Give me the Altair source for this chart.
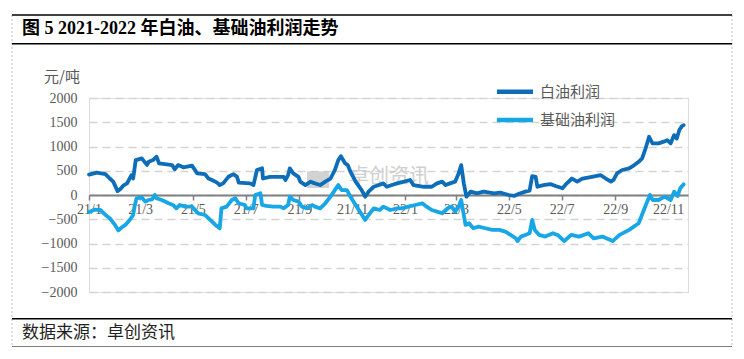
import altair as alt
import pandas as pd

# ---------------- data ----------------
series_names = ["白油利润", "基础油利润"]
series_colors = ["#0E6DB9", "#17A6E6"]

white_dates = [
    "2021-01-01", "2021-01-10", "2021-01-20", "2021-01-25", "2021-01-29", "2021-02-03",
    "2021-02-06", "2021-02-10", "2021-02-14", "2021-02-19", "2021-02-21", "2021-02-24",
    "2021-03-03", "2021-03-09", "2021-03-11", "2021-03-16", "2021-03-20", "2021-03-23",
    "2021-04-01", "2021-04-07", "2021-04-10", "2021-04-14", "2021-04-20", "2021-04-30",
    "2021-05-06", "2021-05-15", "2021-05-19", "2021-05-23", "2021-05-29", "2021-06-01",
    "2021-06-05", "2021-06-11", "2021-06-17", "2021-06-21", "2021-06-23", "2021-07-06",
    "2021-07-10", "2021-07-14", "2021-07-20", "2021-07-21", "2021-07-29", "2021-08-14",
    "2021-08-16", "2021-08-19", "2021-08-21", "2021-08-25", "2021-08-31", "2021-09-02",
    "2021-09-08", "2021-09-14", "2021-09-19", "2021-09-25", "2021-10-01", "2021-10-07",
    "2021-10-12", "2021-10-16", "2021-10-19", "2021-10-24", "2021-10-27", "2021-10-30",
    "2021-11-05", "2021-11-12", "2021-11-16", "2021-11-20", "2021-11-26", "2021-12-02",
    "2021-12-07", "2021-12-11", "2021-12-17", "2021-12-23", "2021-12-31", "2022-01-07",
    "2022-01-11", "2022-01-23", "2022-02-01", "2022-02-07", "2022-02-13", "2022-02-17",
    "2022-02-22", "2022-02-28", "2022-03-04", "2022-03-07", "2022-03-10", "2022-03-13",
    "2022-03-18", "2022-03-25", "2022-04-02", "2022-04-14", "2022-04-21", "2022-05-01",
    "2022-05-07", "2022-05-12", "2022-05-20", "2022-05-25", "2022-05-28", "2022-06-01",
    "2022-06-03", "2022-06-10", "2022-06-18", "2022-06-24", "2022-07-02", "2022-07-07",
    "2022-07-13", "2022-07-19", "2022-07-25", "2022-08-05", "2022-08-15", "2022-08-21",
    "2022-08-27", "2022-08-30", "2022-09-03", "2022-09-09", "2022-09-17", "2022-09-23",
    "2022-09-28", "2022-10-02", "2022-10-06", "2022-10-10", "2022-10-14", "2022-10-21",
    "2022-10-27", "2022-10-31", "2022-11-04", "2022-11-08", "2022-11-11", "2022-11-14",
    "2022-11-17", "2022-11-19",
]
white_vals = [
    420, 460, 430, 340, 275, 80,
    120, 200, 240, 410, 340, 720,
    755, 620, 685, 720, 790, 650,
    630, 617, 530, 617, 570, 605,
    445, 430, 340, 310, 255, 205,
    240, 375, 430, 375, 255, 240,
    205, 515, 550, 340, 375, 375,
    310, 410, 550, 445, 375, 275,
    205, 275, 240, 205, 275, 340,
    515, 720, 800, 650, 617, 480,
    275, 100, -35, 70, 170, 205,
    240, 170, 205, 240, 275, 310,
    205, 170, 170, 240, 275, 205,
    240, 275, 445, 617, 240, -35,
    70, 35, 70, 35, 50, 0,
    -20, 20, 70, 90, 390, 375,
    170, 205, 225, 185, 138, 240,
    340, 275, 340, 375, 410, 340,
    275, 310, 445, 515, 550, 617,
    685, 755, 960, 1200, 1065, 1065,
    1100, 1130, 1065, 1235, 1165, 1340,
    1420, 1440,
]

base_dates = [
    "2021-01-01", "2021-01-08", "2021-01-14", "2021-01-20", "2021-01-25", "2021-01-31",
    "2021-02-04", "2021-02-08", "2021-02-12", "2021-02-17", "2021-02-21", "2021-02-23",
    "2021-02-25", "2021-03-03", "2021-03-07", "2021-03-11", "2021-03-15", "2021-03-18",
    "2021-03-20", "2021-03-26", "2021-04-03", "2021-04-08", "2021-04-12", "2021-04-16",
    "2021-04-22", "2021-04-30", "2021-05-07", "2021-05-15", "2021-05-21", "2021-05-27",
    "2021-06-01", "2021-06-03", "2021-06-09", "2021-06-15", "2021-06-19", "2021-06-23",
    "2021-06-30", "2021-07-02", "2021-07-10", "2021-07-12", "2021-07-18", "2021-07-20",
    "2021-07-25", "2021-08-02", "2021-08-10", "2021-08-14", "2021-08-19", "2021-08-21",
    "2021-08-25", "2021-08-31", "2021-09-04", "2021-09-10", "2021-09-16", "2021-09-19",
    "2021-09-25", "2021-10-01", "2021-10-07", "2021-10-12", "2021-10-16", "2021-10-20",
    "2021-10-26", "2021-10-30", "2021-11-05", "2021-11-10", "2021-11-16", "2021-11-20",
    "2021-11-26", "2021-12-03", "2021-12-07", "2021-12-15", "2021-12-23", "2021-12-28",
    "2022-01-05", "2022-01-13", "2022-01-21", "2022-01-26", "2022-02-01", "2022-02-07",
    "2022-02-13", "2022-02-19", "2022-02-24", "2022-02-28", "2022-03-04", "2022-03-07",
    "2022-03-10", "2022-03-12", "2022-03-16", "2022-03-21", "2022-03-27", "2022-04-04",
    "2022-04-12", "2022-04-20", "2022-04-27", "2022-05-03", "2022-05-09", "2022-05-11",
    "2022-05-15", "2022-05-20", "2022-05-25", "2022-05-28", "2022-05-31", "2022-06-05",
    "2022-06-12", "2022-06-21", "2022-06-27", "2022-07-04", "2022-07-12", "2022-07-21",
    "2022-08-01", "2022-08-07", "2022-08-17", "2022-08-29", "2022-09-06", "2022-09-17",
    "2022-09-28", "2022-10-04", "2022-10-11", "2022-10-14", "2022-10-21", "2022-10-28",
    "2022-11-04", "2022-11-08", "2022-11-12", "2022-11-15", "2022-11-19",
]
base_vals = [
    -350, -300, -309, -412, -480, -617,
    -730, -665, -617, -515, -412, -206,
    -68, -48, -137, -103, -89, 0,
    -68, -103, -171, -206, -275, -206,
    -240, -240, -377, -412, -515, -617,
    -686, -275, -240, -103, -68, -171,
    -206, -275, -275, 0, 35, -206,
    -226, -240, -240, -275, -206, -35,
    -103, -137, -240, -275, -206, -240,
    -275, -171, -35, 100, 205, 100,
    100, -35, -206, -343, -515, -412,
    -275, -309, -240, -309, -275, -275,
    -240, -206, -171, -240, -309, -343,
    -377, -275, -240, -343, -240, -103,
    -412, -617, -583, -686, -652, -686,
    -720, -720, -755, -823, -892, -950,
    -858, -823, -789, -515, -720, -823,
    -858, -789, -830, -950, -823, -858,
    -789, -892, -858, -950, -823, -720,
    -583, -309, 0, -103, -103, -35,
    -103, 70, -20, 138, 220,
]

y_ticks = [-2000, -1500, -1000, -500, 0, 500, 1000, 1500, 2000]
x_tick_months = [(2021, 1), (2021, 3), (2021, 5), (2021, 7), (2021, 9), (2021, 11),
                 (2022, 1), (2022, 3), (2022, 5), (2022, 7), (2022, 9), (2022, 11)]

title_text = "图 5 2021-2022 年白油、基础油利润走势"
source_text = "数据来源：卓创资讯"
unit_text = "元/吨"
watermark_text = "卓创资讯"

# ---------------- build table ----------------
df = pd.concat([
    pd.DataFrame({"date": white_dates, "value": white_vals, "series": series_names[0]}),
    pd.DataFrame({"date": base_dates, "value": base_vals, "series": series_names[1]}),
], ignore_index=True)

W, H = 599, 194
CJK = "Noto Sans CJK SC"
SERIF = "Liberation Serif"
LABEL_GREY = "#595959"

x_vals = [alt.DateTime(year=y, month=m, date=1, utc=True) for y, m in x_tick_months]

lines = alt.Chart(df).mark_line(strokeWidth=3.8, strokeJoin="round", strokeCap="round").encode(
    x=alt.X(
        "date:T",
        scale=alt.Scale(
            type="utc", nice=False,
            domain=[alt.DateTime(year=2021, month=1, date=1, utc=True),
                    alt.DateTime(year=2022, month=11, date=24, utc=True)],
        ),
        axis=alt.Axis(
            title=None, values=x_vals, labelExpr="utcFormat(datum.value, '%y/%-m')",
            orient="bottom", offset=-H / 2, grid=False,
            domainColor="#808080", domainWidth=2,
            tickColor="#808080", tickWidth=1.5, tickSize=5,
            labelFont=SERIF, labelFontSize=14, labelColor=LABEL_GREY,
            labelPadding=2, labelFlush=False, labelOverlap=False,
        ),
    ),
    y=alt.Y(
        "value:Q",
        scale=alt.Scale(domain=[-2000, 2000], nice=False),
        axis=alt.Axis(
            title=None, values=y_ticks, format="d", domain=False, ticks=False, tickSize=0,
            grid=True, gridColor="#D4D4D4", gridDash=[8, 5], gridWidth=1.5,
            labelFont=SERIF, labelFontSize=14, labelColor=LABEL_GREY,
            labelPadding=12,
        ),
    ),
    color=alt.Color("series:N", scale=alt.Scale(domain=series_names, range=series_colors), legend=None),
    detail="series:N",
)

dummy = pd.DataFrame({"k": [0]})


def hline(y, x1, x2, color="black", width=1.6, dash=None):
    kw = dict(color=color, strokeWidth=width)
    if dash:
        kw["strokeDash"] = dash
    return alt.Chart(dummy).mark_rule(**kw).encode(
        x=alt.value(x1), x2=alt.value(x2), y=alt.value(y))


def vline(x, y1, y2, color="#BFBFBF", width=1, dash=None):
    kw = dict(color=color, strokeWidth=width)
    if dash:
        kw["strokeDash"] = dash
    return alt.Chart(dummy).mark_rule(**kw).encode(
        x=alt.value(x), y=alt.value(y1), y2=alt.value(y2))


def text(t, x, y, size, color="black", font=CJK, weight="normal", align="left", opacity=1.0):
    return alt.Chart(dummy).mark_text(
        align=align, baseline="middle", font=font, fontSize=size,
        fontWeight=weight, color=color, opacity=opacity,
    ).encode(x=alt.value(x), y=alt.value(y), text=alt.value(t))


# frame (view origin is at page (89, 98))
L, R = -77, 643
decor = [
    vline(L, -83, 249, dash=[2, 2]),
    vline(R, -83, 249, dash=[2, 2]),
    hline(-83, L, R),
    hline(-54.3, L, R),
    hline(220.7, L, R),
    hline(249.3, L, R),
    text(title_text, -67, -69.5, 18, font=SERIF + ", " + CJK, weight="bold"),
    text(source_text, -67, 235, 17, color="#222222"),
    text(unit_text, -9, -21, 15, color=LABEL_GREY, align="right"),
    # watermark
    text("▆", 218, 80, 22, color="#C8C8C8", opacity=0.8),
    text(watermark_text, 260, 79, 20, color="#C8C8C8", opacity=0.85),
    # legend
    hline(-6.3, 408, 444, color=series_colors[0], width=4.5),
    hline(22, 408, 444, color=series_colors[1], width=4.5),
    text(series_names[0], 451, -6.3, 15, color=LABEL_GREY),
    text(series_names[1], 451, 22, 15, color=LABEL_GREY),
]

chart = alt.layer(*decor, lines).properties(
    width=W, height=H,
    autosize=alt.AutoSizeParams(type="none"),
    padding={"left": 81, "top": 90, "right": 46, "bottom": 55},
).configure_view(stroke=None).configure(background="white")

chart.save("out.html", embed_options={"renderer": "svg", "actions": False})
